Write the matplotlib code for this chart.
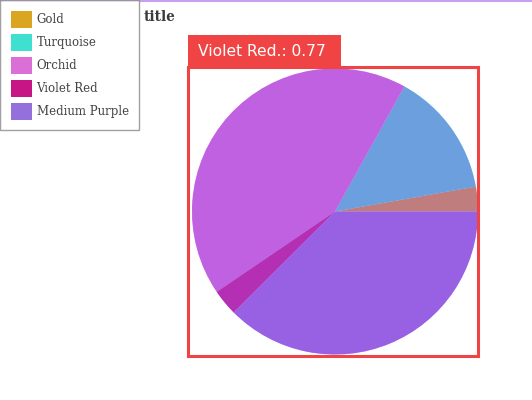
import matplotlib.pyplot as plt
from matplotlib.patches import Rectangle, Patch

# slice data
labels = ['Gold', 'Turquoise', 'Orchid', 'Violet Red', 'Medium Purple']
values = [0.72, 3.65, 10.98, 0.77, 9.68]
colors = ['#daa520', '#40e0d0', '#da70d6', '#c71585', '#9370db']

highlight = 'Violet Red'
highlight_val = values[labels.index(highlight)]

W, H = 532, 400
fig = plt.figure(figsize=(W / 100, H / 100), dpi=100)
fig.patch.set_facecolor('white')

# pie axes: center ~ (335, 211.5), radius ~143 px
cx, cy, r = 335, 211.5, 143
ax = fig.add_axes([(cx - r) / W, (H - cy - r) / H, 2 * r / W, 2 * r / H])
ax.pie(values, colors=colors, startangle=0, counterclock=True,
       wedgeprops=dict(linewidth=0))
# purple tint over the slices
ax.pie(values, colors=['#a050f0'] * len(values), startangle=0,
       counterclock=True, wedgeprops=dict(linewidth=0, alpha=0.45))
ax.set_xlim(-1, 1)
ax.set_ylim(-1, 1)
ax.set_aspect('equal')
ax.axis('off')

# red highlight frame + tag
red = '#f04444'
fig.patches.append(Rectangle((188 / W, (H - 356) / H), 290 / W, 289 / H,
                             transform=fig.transFigure, fill=False,
                             edgecolor=red, linewidth=2.2))
fig.patches.append(Rectangle((188 / W, (H - 67) / H), 153 / W, 32 / H,
                             transform=fig.transFigure, facecolor=red,
                             edgecolor='none'))
fig.text(198 / W, (H - 52) / H, f'{highlight}.: {highlight_val:.2f}',
         color='white', fontsize=11.2, family='DejaVu Sans',
         va='center', ha='left')

# top purple line
fig.patches.append(Rectangle((0, (H - 2) / H), 1, 2 / H,
                             transform=fig.transFigure, facecolor='#c8a0f0',
                             edgecolor='none', zorder=5))

fig.text(144 / W, (H - 17) / H, 'title', fontsize=9.8, fontweight='bold',
         family='DejaVu Serif', color='#3a3a3a', va='center', ha='left')

handles = [Patch(facecolor=c, edgecolor='none') for c in colors]
leg = fig.legend(handles, labels, loc='upper left',
                 bbox_to_anchor=(0, 1.0), bbox_transform=fig.transFigure,
                 borderaxespad=0,
                 prop=dict(family='DejaVu Serif', size=8.5),
                 frameon=True, fancybox=False, handlelength=1.85,
                 handleheight=1.85, handletextpad=0.35,
                 labelspacing=0.5, borderpad=0.9)
leg.get_frame().set_edgecolor('#888888')
leg.get_frame().set_linewidth(1.0)
for t in leg.get_texts():
    t.set_color('#444444')

fig.savefig('out.png', dpi=100)
